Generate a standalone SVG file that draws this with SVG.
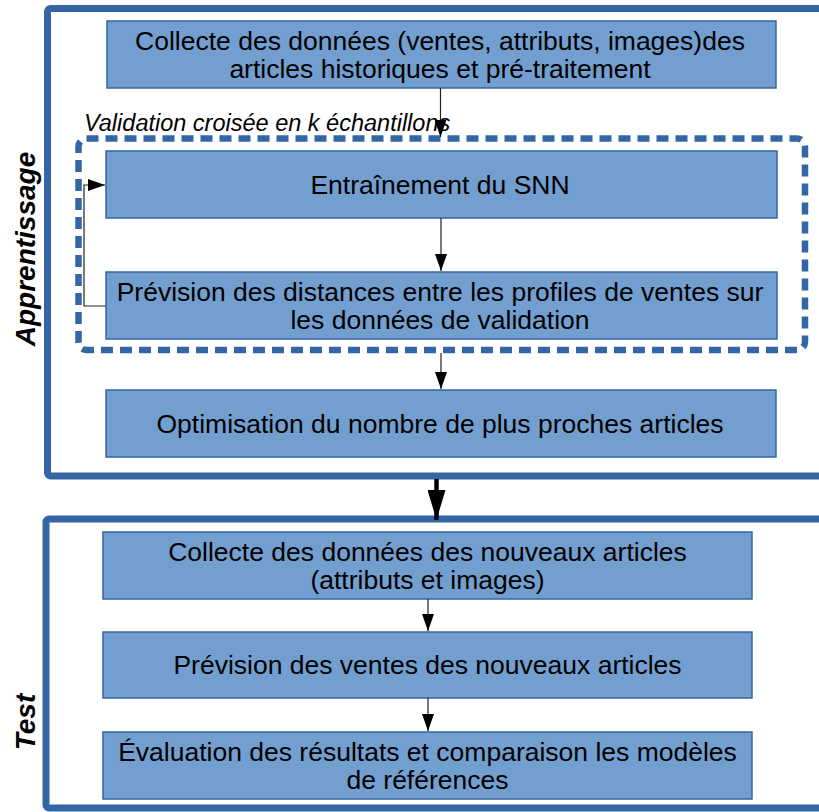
<svg xmlns="http://www.w3.org/2000/svg" width="819" height="812" viewBox="0 0 819 812">
  <defs>
    <marker id="arr" viewBox="0 0 17 12" refX="17" refY="6" markerWidth="17" markerHeight="12" markerUnits="userSpaceOnUse" orient="auto">
      <path d="M0,0 L17,6 L0,12 Z" fill="#000"/>
    </marker>
    <marker id="arrBig" viewBox="0 0 30 18" refX="30" refY="9" markerWidth="30" markerHeight="18" markerUnits="userSpaceOnUse" orient="auto">
      <path d="M0,0 L30,9 L0,18 Z" fill="#000"/>
    </marker>
  </defs>
  <style>
    .frame { fill: none; stroke: #3465a4; stroke-width: 7; }
    .box { fill: #729fcf; stroke: #3465a4; stroke-width: 1.5; }
    .t { font-family: "Liberation Sans", Arial, sans-serif; font-size: 26.5px; fill: #000; text-anchor: middle; }
    .side { font-family: "Liberation Sans", Arial, sans-serif; font-size: 28px; font-weight: bold; font-style: italic; fill: #000; text-anchor: middle; }
    .note { font-family: "Liberation Sans", Arial, sans-serif; font-size: 23.5px; font-style: italic; fill: #000; }
    .link { fill: none; stroke: #222; stroke-width: 1.2; }
  </style>
  <rect width="819" height="812" fill="#fff"/>

  <!-- phase frames -->
  <g id="apprentissage">
    <rect class="frame" x="47.5" y="8.5" width="790" height="467.5" rx="3"/>
    <text class="side" transform="translate(35,249) rotate(-90)">Apprentissage</text>
  </g>
  <g id="test">
    <rect class="frame" x="46" y="519" width="790" height="289" rx="3"/>
    <text class="side" transform="translate(35,722) rotate(-90)">Test</text>
  </g>

  <!-- cross-validation loop -->
  <g id="validation-croisee">
    <rect x="78.5" y="138.5" width="726.5" height="211.5" rx="8" fill="none" stroke="#3465a4" stroke-width="6.5" stroke-dasharray="12 7"/>
    <text class="note" x="84" y="131">Validation croisée en k échantillons</text>
  </g>

  <g id="n1">
    <rect class="box" x="107" y="21" width="669" height="67"/>
    <text class="t" x="440" y="49.5">Collecte des données (ventes, attributs, images)des</text>
    <text class="t" x="440" y="77.5">articles historiques et pré-traitement</text>
  </g>
  <g id="n2">
    <rect class="box" x="106" y="151" width="671" height="67"/>
    <text class="t" x="440" y="193.5">Entraînement du SNN</text>
  </g>
  <g id="n3">
    <rect class="box" x="106" y="272" width="671" height="67"/>
    <text class="t" x="440" y="300.5">Prévision des distances entre les profiles de ventes sur</text>
    <text class="t" x="440" y="328.5">les données de validation</text>
  </g>
  <g id="n4">
    <rect class="box" x="106" y="390" width="670" height="67"/>
    <text class="t" x="440" y="432.5">Optimisation du nombre de plus proches articles</text>
  </g>
  <g id="n5">
    <rect class="box" x="103" y="532" width="649" height="67"/>
    <text class="t" x="427.5" y="560.5">Collecte des données des nouveaux articles</text>
    <text class="t" x="427.5" y="588.5">(attributs et images)</text>
  </g>
  <g id="n6">
    <rect class="box" x="103" y="632" width="649" height="66"/>
    <text class="t" x="427.5" y="674">Prévision des ventes des nouveaux articles</text>
  </g>
  <g id="n7">
    <rect class="box" x="103" y="732" width="649" height="67"/>
    <text class="t" x="427.5" y="760.5">Évaluation des résultats et comparaison les modèles</text>
    <text class="t" x="427.5" y="788.5">de références</text>
  </g>

  <g id="connectors">
    <line class="link" x1="440.5" y1="88" x2="440.5" y2="137" marker-end="url(#arr)"/>
    <line class="link" x1="441" y1="218" x2="441" y2="271" marker-end="url(#arr)"/>
    <polyline class="link" points="106,306 84,306 84,185 105,185" marker-end="url(#arr)"/>
    <line class="link" x1="441" y1="353" x2="441" y2="389" marker-end="url(#arr)"/>
    <line x1="436.5" y1="479" x2="436.5" y2="520" stroke="#000" stroke-width="4.5" marker-end="url(#arrBig)"/>
    <line class="link" x1="428" y1="599" x2="428" y2="631" marker-end="url(#arr)"/>
    <line class="link" x1="428" y1="698" x2="428" y2="731" marker-end="url(#arr)"/>
  </g>
</svg>
